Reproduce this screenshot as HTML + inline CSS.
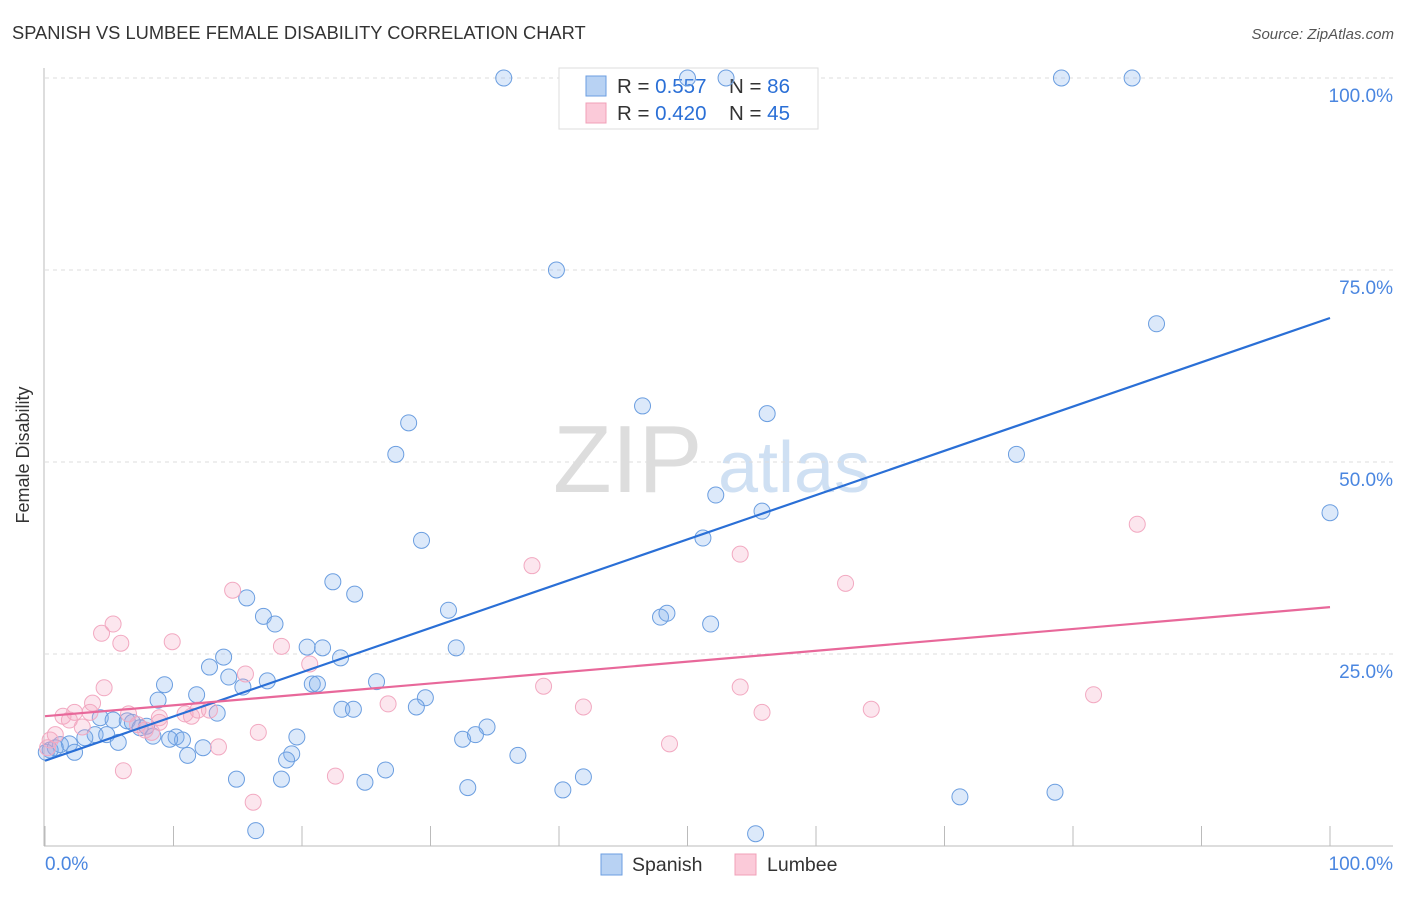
<!DOCTYPE html>
<html><head><meta charset="utf-8"><style>
body{margin:0;background:#fff;font-family:"Liberation Sans",sans-serif;}
svg text{font-family:"Liberation Sans",sans-serif;}
</style></head><body>
<svg width="1406" height="892" viewBox="0 0 1406 892">
<text x="12" y="39" font-size="18.3" fill="#333">SPANISH VS LUMBEE FEMALE DISABILITY CORRELATION CHART</text>
<text x="1394" y="39" font-size="15" fill="#555" font-style="italic" text-anchor="end">Source: ZipAtlas.com</text>
<g>
<text x="553" y="492" font-size="96" fill="#ddd" font-family="Liberation Serif">ZIP</text>
<text x="718" y="492" font-size="72" fill="#cfe0f3">atlas</text>
</g>
<g id="grid"></g>
<g id="axes"></g>
<g>
<rect x="559" y="68" width="259" height="61" fill="#fff" stroke="#ddd"/>
<rect x="586" y="76" width="20" height="20" fill="#b8d2f3" stroke="#6b9ee0"/>
<rect x="586" y="103" width="20" height="20" fill="#fbcad9" stroke="#f0a0b8"/>
<text x="617" y="93" font-size="20.5" fill="#333">R = <tspan fill="#2a6fd6">0.557</tspan></text>
<text x="729" y="93" font-size="20.5" fill="#333">N = <tspan fill="#2a6fd6">86</tspan></text>
<text x="617" y="120" font-size="20.5" fill="#333">R = <tspan fill="#2a6fd6">0.420</tspan></text>
<text x="729" y="120" font-size="20.5" fill="#333">N = <tspan fill="#2a6fd6">45</tspan></text>
</g>
<g id="marks"></g>
<text x="29" y="455" font-size="18" fill="#333" transform="rotate(-90 29 455)" text-anchor="middle">Female Disability</text>
<g>
<rect x="601" y="854" width="21" height="21" fill="#b8d2f3" stroke="#6b9ee0"/>
<text x="632" y="871" font-size="19.5" fill="#333">Spanish</text>
<rect x="735" y="854" width="21" height="21" fill="#fbcad9" stroke="#f0a0b8"/>
<text x="767" y="871" font-size="19.5" fill="#333">Lumbee</text>
</g>
</svg>
<script>
const spanishX=[35.7,50.0,53.0,79.1,84.6,39.8,86.5,46.5,56.2,28.3,27.3,75.6,52.2,55.8,100,51.2,29.3,22.4,24.1,15.7,31.4,17.0,47.9,48.4,17.9,51.8,32.0,20.4,21.6,23.0,13.9,12.8,14.3,17.3,15.4,20.8,21.2,25.8,9.3,11.8,8.8,29.6,23.1,24.0,28.9,13.4,6.4,4.3,5.3,6.8,7.4,7.9,34.4,3.9,3.1,4.8,10.2,10.7,8.4,9.7,19.6,32.5,33.5,12.3,5.7,1.2,1.9,0.4,0.8,2.3,11.1,19.2,18.8,36.8,26.5,14.9,18.4,24.9,41.9,32.9,40.3,71.2,78.6,16.4,55.3,0.1];
const spanishY=[100,100,100,100,100,75.0,68.0,57.3,56.3,55.1,51.0,51.0,45.7,43.6,43.4,40.1,39.8,34.4,32.8,32.3,30.7,29.9,29.8,30.3,28.9,28.9,25.8,25.9,25.8,24.5,24.6,23.3,22.0,21.5,20.7,21.1,21.1,21.4,21.0,19.7,19.0,19.3,17.8,17.8,18.1,17.3,16.3,16.7,16.4,16.1,15.4,15.6,15.5,14.5,14.1,14.5,14.2,13.8,14.3,13.9,14.2,13.9,14.5,12.8,13.5,13.2,13.3,12.5,12.8,12.2,11.8,12.0,11.2,11.8,9.9,8.7,8.7,8.3,9.0,7.6,7.3,6.4,7.0,2.0,1.6,12.2];
const lumbeeX=[85.0,54.1,37.9,62.3,14.6,5.3,4.4,5.9,9.9,18.4,20.6,15.6,4.6,38.8,54.1,81.6,3.7,26.7,41.9,55.8,64.3,1.4,2.3,3.5,6.5,8.9,10.9,11.4,11.9,12.8,7.2,2.9,8.3,16.6,0.8,13.5,48.6,22.6,6.1,16.2,0.4,0.2,8.9,7.8,1.9];
const lumbeeY=[41.9,38.0,36.5,34.2,33.3,28.9,27.7,26.4,26.6,26.0,23.7,22.4,20.6,20.8,20.7,19.7,18.6,18.5,18.1,17.4,17.8,16.9,17.4,17.4,17.2,16.7,17.2,16.9,17.7,17.7,15.8,15.5,14.8,14.8,14.5,12.9,13.3,9.1,9.8,5.7,13.8,12.8,16.1,15.1,16.4];
const trendSpanish=[11.1,68.75];
const trendLumbee=[16.9,31.1];
const yTicks=[25,50,75,100];
const yTickLabels=["25.0%","50.0%","75.0%","100.0%"];
const xTicks=[0,10,20,30,40,50,60,70,80,90,100];

const NS="http://www.w3.org/2000/svg";
const X=v=>45+v*12.85, Y=v=>846-v*7.68;
function mk(tag,attrs,parent){const e=document.createElementNS(NS,tag);for(const k in attrs)e.setAttribute(k,attrs[k]);document.getElementById(parent).appendChild(e);return e;}
yTicks.forEach((t,i)=>{
 const g=mk('line',{x1:45,x2:1393,y1:Y(t),y2:Y(t),stroke:'#ddd','stroke-dasharray':'4 4'},'grid');
 
 
 const l=mk('text',{x:1393,y:Y(t)+24,'font-size':19,fill:'#4a86e0','text-anchor':'end'},'axes');
 l.textContent=yTickLabels[i];
 
 
});
let a=mk('line',{x1:44,x2:44,y1:68,y2:846,stroke:'#bbb'},'axes');


a=mk('line',{x1:44,x2:1393,y1:846,y2:846,stroke:'#bbb'},'axes');


xTicks.forEach(t=>{
 const k=mk('line',{x1:X(t),x2:X(t),y1:826,y2:846,stroke:'#bbb'},'axes');
 
 
});
let xl=mk('text',{x:45,y:870,'font-size':19,fill:'#4a86e0'},'axes');xl.textContent='0.0%';


xl=mk('text',{x:1393,y:870,'font-size':19,fill:'#4a86e0','text-anchor':'end'},'axes');xl.textContent='100.0%';


spanishX.forEach((v,i)=>{
 const c=mk('circle',{cx:X(v),cy:Y(spanishY[i]),r:8,fill:'rgba(130,175,238,0.28)',stroke:'#6b9ee0','stroke-width':1},'marks');
 
 
});
lumbeeX.forEach((v,i)=>{
 const c=mk('circle',{cx:X(v),cy:Y(lumbeeY[i]),r:8,fill:'rgba(245,165,195,0.28)',stroke:'#f2a9c1','stroke-width':1},'marks');
 
 
});
let tl=mk('line',{x1:X(0),y1:Y(trendSpanish[0]),x2:X(100),y2:Y(trendSpanish[1]),stroke:'#2a6fd6','stroke-width':2.2},'marks');


tl=mk('line',{x1:X(0),y1:Y(trendLumbee[0]),x2:X(100),y2:Y(trendLumbee[1]),stroke:'#e8689a','stroke-width':2.2},'marks');


</script>
</body></html>
